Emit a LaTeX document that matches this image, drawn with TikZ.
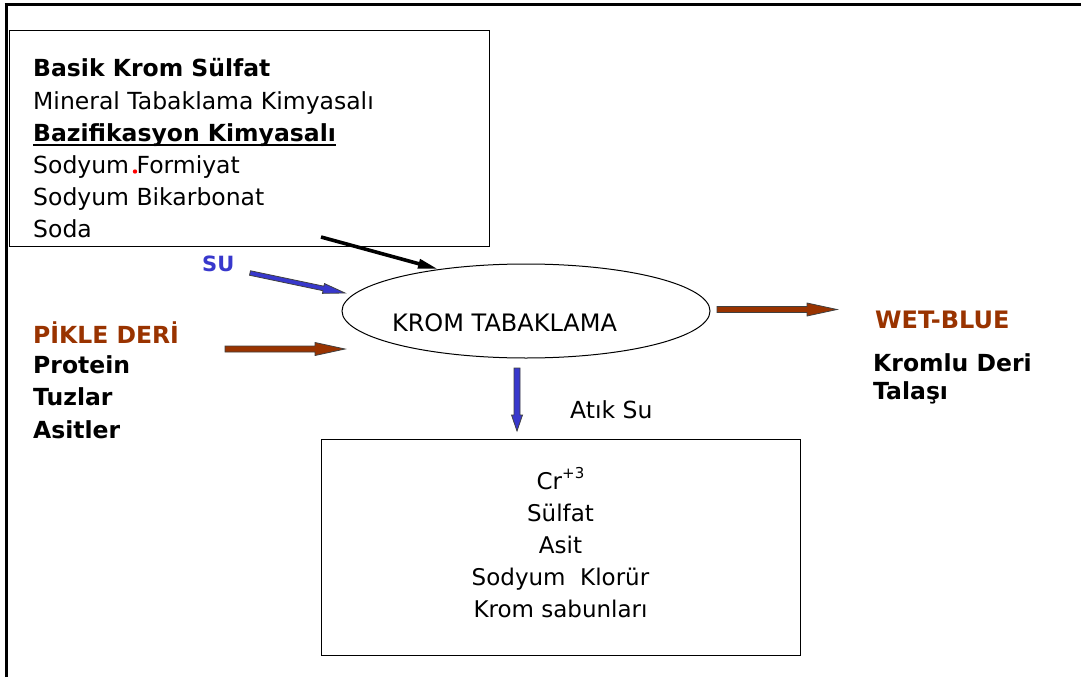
\documentclass[tikz,border=0pt]{standalone}
\usepackage{fontspec}
\setmainfont{DejaVu Sans}
\usetikzlibrary{calc,shapes.geometric,arrows.meta}
\definecolor{brownc}{HTML}{993300}
\definecolor{bluec}{HTML}{3838CC}
% block arrow: #1 start, #2 tip, #3 shaft half width, #4 head half width, #5 head length, #6 fill
\newcommand{\blockarrow}[6]{%
  \path ($(#2)!#5!(#1)$) coordinate (bah);
  \draw[arrowedge, fill=#6] ($(#1)!#3!90:(#2)$) -- ($(bah)!#3!90:(#2)$) -- ($(bah)!#4!90:(#2)$) -- (#2)
    -- ($(bah)!#4!-90:(#2)$) -- ($(bah)!#3!-90:(#2)$) -- ($(#1)!#3!-90:(#2)$) -- cycle;}
\begin{document}
\begin{tikzpicture}[x=1pt,y=-1pt,
  txt/.style={inner sep=0pt, font=\fontsize{23.5}{32}\selectfont},
  txtl/.style={txt, anchor=base west},
  txtc/.style={txt, anchor=base, font=\fontsize{23}{32}\selectfont},
  bold/.style={font=\fontsize{23.5}{32}\selectfont\bfseries},
  box/.style={draw, line width=1.2pt, inner sep=0pt, anchor=north west},
  arrowedge/.style={draw=black!75, line width=0.8pt, line join=miter}]
\useasboundingbox (0,0) rectangle (1081,677);
% outer frame (top and left only)
\draw[line width=3.2pt] (6.2,677) -- (6.2,4.3);
\draw[line width=3.2pt] (4.6,4.3) -- (1081,4.3);

% top box
\node[box, minimum width=480pt, minimum height=216pt] (topbox) at (9,30) {};
\node[txtl, bold] (t1) at (33,77) {Basik Krom Sülfat};
\node[txtl] (t2) at (33,109) {Mineral Tabaklama Kimyasalı};
\node[txtl, bold] (t3) at (33,141) {Bazifikasyon Kimyasalı};
\draw[line width=1.8pt] ($(t3.base west)+(0,3.8)$) -- ($(t3.base east)+(0,3.8)$);
\node[txtl] (t4) at (33,173) {Sodyum Formiyat};
\fill[red] (135,171.5) circle (2.2pt);
\node[txtl] (t5) at (33,205) {Sodyum Bikarbonat};
\node[txtl] (t6) at (33,237) {Soda};

% left labels
\node[txtl, font=\fontsize{21}{28}\selectfont\bfseries, text=bluec] (su) at (202,271) {SU};
\node[txtl, bold, text=brownc] (pk) at (33,343) {PİKLE DERİ};
\node[txtl, bold] (pr) at (33,373) {Protein};
\node[txtl, bold] (tz) at (33,405) {Tuzlar};
\node[txtl, bold] (as) at (33,438) {Asitler};

% central process
\node[draw, ellipse, line width=1pt, inner sep=0pt, minimum width=368pt, minimum height=94pt] (krom) at (526,311) {};
\node[txtc, font=\fontsize{24}{32}\selectfont] (kromtext) at (504.5,331) {KROM TABAKLAMA};

% right labels
\node[txtl, font=\fontsize{24}{30}\selectfont\bfseries, text=brownc] (wb) at (875,328) {WET-BLUE};
\node[txtl, bold] (kd) at (873,371) {Kromlu Deri};
\node[txtl, bold] (tl) at (873,399) {Talaşı};

% waste water
\node[txtl] (atik) at (570,418) {Atık Su};
\node[box, minimum width=479pt, minimum height=216pt] (botbox) at (320.5,439) {};
\node[txtc] (b1) at (560.5,489) {Cr\raisebox{11pt}{\fontsize{15}{15}\selectfont +3}};
\node[txtc] (b2) at (560.5,521) {Sülfat};
\node[txtc] (b3) at (560.5,553) {Asit};
\node[txtc] (b4) at (560.5,585) {Sodyum\ \ Klorür};
\node[txtc] (b5) at (560.5,617) {Krom sabunları};

% connectors
\coordinate (bk1) at (321,237);
\coordinate (bk2) at (438,269);
\draw[line width=3.6pt, -{Triangle[length=20pt,width=9pt]}] (bk1) -- (bk2);

\coordinate (su1) at (250,273);
\coordinate (su2) at (345,293);
\blockarrow{su1}{su2}{2.3pt}{5pt}{22pt}{bluec}

\coordinate (pk1) at (225,349);
\coordinate (pk2) at (345,349);
\blockarrow{pk1}{pk2}{3pt}{6.5pt}{30pt}{brownc}

\coordinate (wb1) at (717,309.5);
\coordinate (wb2) at (837,309.5);
\blockarrow{wb1}{wb2}{3pt}{6.5pt}{30pt}{brownc}

\coordinate (at1) at (517,368);
\coordinate (at2) at (517,431);
\blockarrow{at1}{at2}{3pt}{5.5pt}{16pt}{bluec}
\end{tikzpicture}
\end{document}
